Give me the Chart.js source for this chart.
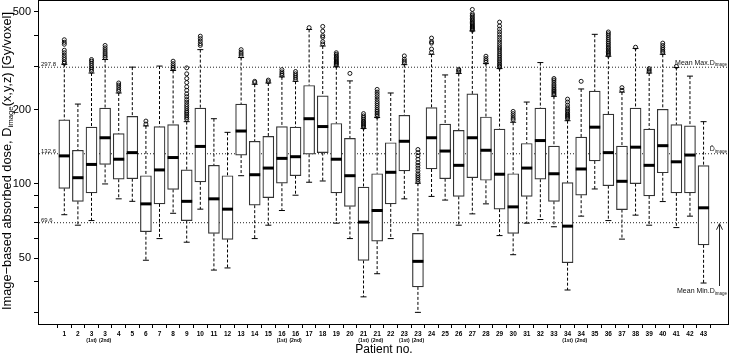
<!DOCTYPE html>
<html>
<head>
<meta charset="utf-8">
<script src="https://cdn.jsdelivr.net/npm/chart.js@4.4.1/dist/chart.umd.min.js"></script>
<style>
html,body{margin:0;padding:0;background:#fff;}
#wrap{position:relative;width:730px;height:357px;}
</style>
</head>
<body>
<div id="wrap"><canvas id="c" width="730" height="357"></canvas></div>
<script>
// ---------------- data ----------------
const patientLabels = ['1','2','3','3','4','5','6','7','8','9','10','11','12','13','14','15','16','16','17','18','19','20','21','21','22','23','23','24','25','26','27','28','29','30','31','32','33','34','34','35','36','37','38','39','40','41','42','43'];
const visitLabels = ['','','(1st)','(2nd)','','','','','','','','','','','','','(1st)','(2nd)','','','','','(1st)','(2nd)','','(1st)','(2nd)','','','','','','','','','','','(1st)','(2nd)','','','','','','','','',''];

const whiskerHigh   = [306,211,282,320,234,298,172,301,289,179,351,184,162,326,254,257,272,261,424,363,299,262,168,186,234,305,100.7,336,277,281,418,308,294,178,215,311,227,180.6,243,405,330,236,355,282,336,297,274,179];
const upperQuartile = [182,137,170,203,160,188,108,171,174,114,203,119,108,211,149,156,171,170,251,228,176,153,97,110,147,190,63,204,175,165,232,187,167,110,146,203,142.5,101.2,155,238,192,142.5,203,167,201,174,172,118.6];
const medianDose    = [130,106,120,154,126,134,83,114,128,85,142,87,79,164,109,116,127,129,184,171,126,108,70,78,111.5,149,48.5,154,136,119,154,137,109.5,80.7,116,150,110,67.4,115,170,134,102.5,141,119,143,123,131,80];
const lowerQuartile = [96,85,92,120,104.5,105,64,83,95,71,102,63,59.5,131,82,88,100.7,108,132,134,92,81,48.9,58.6,83,113,38.2,115,105,89,106,103.5,79,63,89,104.5,85,47.9,90,124,98.4,78.7,100.3,89.4,111,92,92,56.6];
const whiskerLow    = [75,68,71,100,87,85,49,60,76,58,79,44.7,45.6,108,60,68,78,90,101.6,102.8,69.3,60,34.8,43.2,60,87,30.1,89,86,68,75.6,83,61.7,51.6,69.3,71.7,67,37.1,74,95.4,71,59.7,74.7,68,84.8,66.5,74,39.6];
const outlierDoses = [
  [309,313,320,326,333,341,349,369,376,385],
  [],
  [287,292,297,303,309,315,320],
  [326,331,337,343,350,357,365],
  [238,242,247,252,257],
  [],
  [175,180],
  [],
  [293,297,302,308,315],
  [183,186,189,192,195,198,202,206,210,215,220,226,232,240,248,258,268,280,296],
  [365,371,380,389,398],
  [],
  [],
  [331,337,343,351],
  [258,261],
  [260,264],
  [276,280,285,291],
  [265,270,275,280,286],
  [431],
  [370,378,394,400,417,436],
  [303,306,309,312,315,319,323,327,331,336,341],
  [281],
  [170,172,174,176,178,180,183,186,189,193],
  [188,191,194,197,200,204,208,212,216,221,226,231,236,242],
  [],
  [310,315,321,331],
  [102,104,106,108,110,113,116,119,122,126,130,134,138],
  [342,353,373,378,391],
  [],
  [285,289,292],
  [421,425,429,433,437,442,447,452,458,464,470,477,484,491,511],
  [312,317,323,330],
  [298,302,306,311,316,321,327,333,339,346,353,360,368,376,385,394,404,414,425,438,454],
  [182,185,189,193,197],
  [],
  [],
  [230,233,236,239,242,246,250,254,259,264,268],
  [184,186,188,190,192,195,198,201,204,209,215,221],
  [261],
  [],
  [333,337,341,345,350,355,360,366,372,378,385,392,400,407,414],
  [240,246],
  [359],
  [286,290,294],
  [341,346,352,358,365,373],
  [300],
  [],
  []
];
const refValues = [297.8, 132.6, 69.6];
const yTickValues = [30,40,50,60,70,80,90,100,200,300,400,500];
const yTickLabelled = [50,100,200,500];

// ---------------- build datasets ----------------
const X_MIN = -1.86, X_MAX = 48.87;
const Y_MIN = 27.0, Y_MAX = 553;
const FONT = "'Liberation Sans', Arial, Helvetica, sans-serif";
const idx = patientLabels.map((_, i) => i);

const boxData = idx.map(i => ({x: i, y: [lowerQuartile[i], upperQuartile[i]]}));
const medianData = idx.map(i => ({x: i, y: medianDose[i]}));
const capData = [];
const whiskerData = [];
idx.forEach(i => {
  capData.push({x: i, y: whiskerHigh[i]}, {x: i, y: whiskerLow[i]});
  whiskerData.push({x: i, y: whiskerHigh[i]}, {x: i, y: upperQuartile[i]}, {x: i, y: null},
                   {x: i, y: lowerQuartile[i]}, {x: i, y: whiskerLow[i]}, {x: i, y: null});
});
const outlierData = [];
outlierDoses.forEach((arr, i) => arr.forEach(v => outlierData.push({x: i, y: v})));
const refLineData = [];
refValues.forEach(v => { refLineData.push({x: X_MIN, y: v}, {x: X_MAX, y: v}, {x: X_MAX, y: null}); });

// ---------------- annotation helpers ----------------
function richWidth(ctx, parts) {
  let w = 0;
  parts.forEach(p => { ctx.font = `${p.b ? 'bold ' : ''}${p.s}px ${FONT}`; w += ctx.measureText(p.t).width; });
  return w;
}
function drawRich(ctx, parts, x, y, align) {
  const w = richWidth(ctx, parts);
  let cx = align === 'right' ? x - w : (align === 'center' ? x - w / 2 : x);
  ctx.textAlign = 'left';
  ctx.textBaseline = 'alphabetic';
  parts.forEach(p => {
    ctx.font = `${p.b ? 'bold ' : ''}${p.s}px ${FONT}`;
    ctx.fillText(p.t, cx, y + (p.dy || 0));
    cx += ctx.measureText(p.t).width;
  });
}

const annotationPlugin = {
  id: 'annot',
  afterDraw(chart) {
    const {ctx, chartArea: a, scales} = chart;
    const ys = scales.y;
    ctx.save();
    // frame
    ctx.strokeStyle = '#000';
    ctx.lineWidth = 1;
    ctx.strokeRect(a.left - 0.5, a.top - 0.5, a.right - a.left, a.bottom - a.top + 1);
    ctx.fillStyle = '#111';
    // reference value labels (left)
    refValues.forEach(v => {
      const py = ys.getPixelForValue(v);
      ctx.font = `6px ${FONT}`;
      ctx.textAlign = 'left';
      ctx.textBaseline = 'alphabetic';
      ctx.fillText(v.toFixed(1), a.left + 2, py - 1);
    });
    // right labels
    const pMax = ys.getPixelForValue(refValues[0]);
    drawRich(ctx, [{t: 'Mean Max.D', s: 7}, {t: 'image', s: 4.5, dy: 1.5}], a.right - 2, pMax - 2.5, 'right');
    const pMean = ys.getPixelForValue(refValues[1]);
    drawRich(ctx, [{t: 'D\u0304', s: 7}, {t: 'image', s: 4.5, dy: 1.5}], a.right - 2, pMean - 2.5, 'right');
    const pMin = ys.getPixelForValue(refValues[2]);
    drawRich(ctx, [{t: 'Mean Min.D', s: 7}, {t: 'image', s: 4.5, dy: 1.5}], a.right - 2, a.bottom - 31, 'right');
    // arrow to mean min line
    const ax = a.right - 9.5;
    ctx.beginPath();
    ctx.moveTo(ax, a.bottom - 38);
    ctx.lineTo(ax, pMin + 1);
    ctx.moveTo(ax - 3, pMin + 7);
    ctx.lineTo(ax, pMin + 1);
    ctx.lineTo(ax + 3, pMin + 7);
    ctx.strokeStyle = '#222';
    ctx.lineWidth = 1;
    ctx.stroke();
    // y axis title
    ctx.fillStyle = '#000';
    ctx.translate(10.5, 161);
    ctx.rotate(-Math.PI / 2);
    drawRich(ctx, [
      {t: 'Image\u2212based absorbed dose, D', s: 12.8},
      {t: 'image', s: 7.8, dy: 2.5},
      {t: '(x,y,z) [Gy/voxel]', s: 12.8}
    ], 0, 0, 'center');
    ctx.restore();
  }
};

function fixPad(s) { s.paddingTop = 0; s.paddingBottom = 0; s.paddingLeft = 0; s.paddingRight = 0; }

// ---------------- chart ----------------
new Chart(document.getElementById('c'), {
  type: 'bar',
  data: {
    datasets: [
      {type: 'line', data: refLineData, borderColor: '#222', borderWidth: 1, borderDash: [1, 2],
       pointRadius: 0, spanGaps: false, order: 10},
      {type: 'line', data: whiskerData, borderColor: '#000', borderWidth: 1, borderDash: [3, 2],
       pointRadius: 0, spanGaps: false, order: 8},
      {type: 'bar', data: boxData, backgroundColor: '#fff', borderColor: '#333', borderWidth: 1.2,
       borderSkipped: false, barThickness: 11, order: 6},
      {type: 'scatter', data: capData, pointStyle: 'line', pointRadius: 3, borderColor: '#000',
       borderWidth: 1, order: 4},
      {type: 'scatter', data: medianData, pointStyle: 'line', pointRadius: 5.5, borderColor: '#000',
       borderWidth: 3, order: 2},
      {type: 'scatter', data: outlierData, pointStyle: 'circle', pointRadius: 2,
       backgroundColor: 'rgba(0,0,0,0)', borderColor: '#000', borderWidth: 0.9, order: 1}
    ]
  },
  options: {
    responsive: false,
    animation: false,
    devicePixelRatio: 1,
    events: [],
    layout: {autoPadding: false, padding: {left: 0, right: 1, top: 1, bottom: 0}},
    plugins: {legend: {display: false}, tooltip: {enabled: false}},
    scales: {
      x: {
        type: 'linear', position: 'bottom', min: X_MIN, max: X_MAX, offset: false, weight: 0,
        afterBuildTicks: s => { s.ticks = idx.map(i => ({value: i})); },
        afterFit: s => { s.height = 13; fixPad(s); },
        ticks: {autoSkip: false, maxRotation: 0, minRotation: 0, padding: 2, color: '#000',
                font: {family: FONT, size: 6.5, weight: 'bold'},
                callback: v => patientLabels[v]},
        grid: {drawOnChartArea: false, drawTicks: true, tickLength: 4, tickColor: '#000', color: '#000'},
        border: {display: false}
      },
      x2: {
        type: 'linear', position: 'bottom', min: X_MIN, max: X_MAX, offset: false, weight: 1,
        afterBuildTicks: s => { s.ticks = idx.map(i => ({value: i})); },
        afterFit: s => { s.height = 20; fixPad(s); },
        ticks: {autoSkip: false, maxRotation: 0, minRotation: 0, padding: 0.5, color: '#000',
                font: {family: FONT, size: 5, weight: 'bold'},
                callback: v => visitLabels[v]},
        grid: {display: false, drawTicks: false},
        border: {display: false},
        title: {display: true, text: 'Patient no.', color: '#000', font: {family: FONT, size: 12},
                padding: {top: 0, bottom: 0}}
      },
      y: {
        type: 'logarithmic', min: Y_MIN, max: Y_MAX,
        afterBuildTicks: s => { s.ticks = yTickValues.map(v => ({value: v})); },
        afterFit: s => { s.width = 39; fixPad(s); },
        ticks: {autoSkip: false, padding: 3, color: '#000', font: {family: FONT, size: 11},
                callback: v => (yTickLabelled.includes(v) ? String(v) : '')},
        grid: {drawOnChartArea: false, drawTicks: true, tickLength: 5, tickColor: '#000', color: '#000'},
        border: {display: false}
      }
    }
  },
  plugins: [annotationPlugin]
});
</script>
</body>
</html>
